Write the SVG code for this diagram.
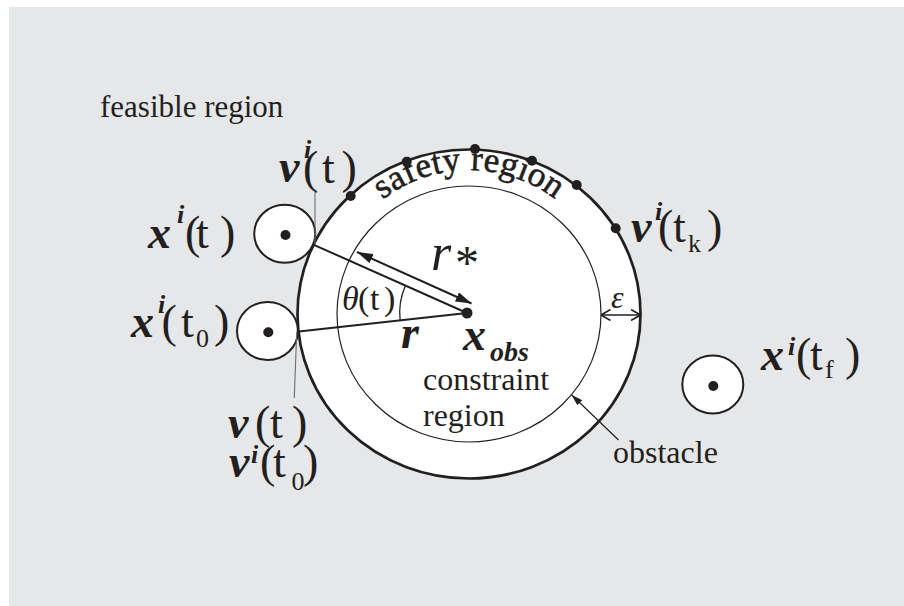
<svg xmlns="http://www.w3.org/2000/svg" width="904" height="606" viewBox="0 0 904 606" font-family="'Liberation Serif', Tinos, 'Times New Roman', 'DejaVu Serif', serif">
<defs>
<style>
text{fill:#231f20;font-family:'Liberation Serif', Tinos, 'Times New Roman', 'DejaVu Serif', serif}
.lbl{font-size:46px}
.bi{font-weight:bold;font-style:italic}
.it{font-style:italic}
.sm{font-size:26px}
.txt{font-size:32px}
.ln{stroke:#231f20;fill:none}
.wh{fill:#fff;stroke:#231f20}
.dot{fill:#231f20}
</style>
<marker id="ah" viewBox="0 0 16 10" refX="16" refY="5" markerWidth="16" markerHeight="10" markerUnits="userSpaceOnUse" orient="auto-start-reverse"><path d="M0,0 L16,5 L0,10 z" fill="#231f20"/></marker>
<marker id="ahs" viewBox="0 0 11 7" refX="11" refY="3.5" markerWidth="11" markerHeight="7" markerUnits="userSpaceOnUse" orient="auto"><path d="M0,0 L11,3.5 L0,7 z" fill="#231f20"/></marker>
<marker id="chev" viewBox="0 0 10 12" refX="9.5" refY="6" markerWidth="10" markerHeight="12" markerUnits="userSpaceOnUse" orient="auto-start-reverse"><path d="M0,0.5 L9.5,6 L0,11.5" fill="none" stroke="#231f20" stroke-width="1.6"/></marker>
<path id="arcp" d="M345,243 A142,142 0 0,1 593,243"/>
</defs>
<rect x="9" y="7" width="895" height="599" fill="#e6e7e8"/>

<g id="obstacle">
<ellipse class="wh" cx="469" cy="314" rx="171.5" ry="164.5" stroke-width="2.7"/>
<ellipse class="ln" cx="469" cy="314" rx="132" ry="128" stroke-width="1.2"/>
<text font-size="35" stroke="#231f20" stroke-width="0.6" letter-spacing="0.3"><textPath href="#arcp" startOffset="50%" text-anchor="middle">safety region</textPath></text>
<text class="txt" x="423" y="390">constraint</text>
<text class="txt" x="423" y="426">region</text>
<circle class="dot" cx="467" cy="313" r="5.5"/>
<text class="lbl"><tspan class="bi" x="463" y="350">x</tspan><tspan class="bi" font-size="28" x="490" y="361">obs</tspan></text>
</g>

<g id="safety-points">
<circle class="dot" cx="350.7" cy="196" r="5"/>
<circle class="dot" cx="406.7" cy="161.7" r="5"/>
<circle class="dot" cx="475" cy="149" r="5"/>
<circle class="dot" cx="532" cy="160.7" r="5"/>
<circle class="dot" cx="576.7" cy="185" r="5"/>
<circle class="dot" cx="615.7" cy="228.3" r="5"/>
<text class="lbl"><tspan class="bi" x="631" y="242">v</tspan><tspan class="bi sm" x="655" y="220">i</tspan><tspan x="658" y="242">(</tspan><tspan x="673" y="242">t</tspan><tspan class="sm" x="688" y="252">k</tspan><tspan x="707" y="242">)</tspan></text>
</g>

<g id="agent-t">
<ellipse class="wh" cx="284.7" cy="233.8" rx="30.5" ry="29" stroke-width="2"/>
<circle class="dot" cx="285.5" cy="235" r="5"/>
<text class="lbl"><tspan class="bi" x="148" y="248">x</tspan><tspan class="bi sm" x="177" y="223">i</tspan><tspan x="185" y="248">(</tspan><tspan x="196" y="248">t</tspan><tspan x="220" y="248">)</tspan></text>
</g>

<g id="agent-t0">
<ellipse class="wh" cx="267.5" cy="331" rx="30.5" ry="29" stroke-width="2"/>
<circle class="dot" cx="268.3" cy="332.3" r="5"/>
<text class="lbl"><tspan class="bi" x="131" y="337">x</tspan><tspan class="bi sm" x="158" y="313">i</tspan><tspan x="161.5" y="337">(</tspan><tspan x="181" y="337">t</tspan><tspan class="sm" x="196" y="347">0</tspan><tspan x="214" y="337">)</tspan></text>
</g>

<g id="agent-tf">
<ellipse class="wh" cx="712.8" cy="384.5" rx="30.5" ry="29" stroke-width="2"/>
<circle class="dot" cx="713.3" cy="386" r="5"/>
<text class="lbl"><tspan class="bi" x="761" y="370">x</tspan><tspan class="bi sm" x="788" y="355">i</tspan><tspan x="796" y="370">(</tspan><tspan x="810" y="370">t</tspan><tspan class="sm" x="825" y="378">f</tspan><tspan x="845" y="370">)</tspan></text>
</g>

<g id="connectors">
<line class="ln" x1="312.7" y1="244.3" x2="467" y2="313" stroke-width="2"/>
<line class="ln" x1="296.7" y1="331.7" x2="467" y2="313" stroke-width="2"/>
<line class="ln" x1="357" y1="252" x2="471.5" y2="303.5" stroke-width="2" marker-start="url(#ah)" marker-end="url(#ah)"/>
<path class="ln" d="M405.5,285.5 A67,67 0 0,0 400.1,320.4" stroke-width="1.3"/>
<line x1="315" y1="192" x2="315" y2="244" stroke="#6d6e70" stroke-width="1.1"/>
<line x1="296.7" y1="332" x2="294.3" y2="398" stroke="#6d6e70" stroke-width="1.1"/>
<line class="ln" x1="601" y1="315" x2="640.5" y2="315" stroke-width="1.6" marker-start="url(#chev)" marker-end="url(#chev)"/>
<line class="ln" x1="618.5" y1="440" x2="571.7" y2="395" stroke-width="1.2" marker-end="url(#ahs)"/>
</g>

<g id="labels">
<text font-size="31" x="100" y="117">feasible region</text>
<text class="lbl"><tspan class="bi" x="279" y="182">v</tspan><tspan class="bi sm" x="304" y="158">i</tspan><tspan x="303" y="183">(</tspan><tspan x="322" y="183">t</tspan><tspan x="341.5" y="183">)</tspan></text>
<text font-size="52"><tspan class="it" x="431" y="270">r</tspan><tspan font-size="48" x="455" y="279">*</tspan></text>
<text font-size="34"><tspan class="it" x="342" y="310">θ</tspan><tspan x="358" y="310">(</tspan><tspan x="370" y="310">t</tspan><tspan x="384" y="310">)</tspan></text>
<text class="lbl bi" x="401" y="348">r</text>
<text class="it" font-size="32" x="611" y="308">ε</text>
<text class="lbl"><tspan class="bi" x="228" y="438">v</tspan><tspan x="255" y="438">(</tspan><tspan x="270" y="438">t</tspan><tspan x="292" y="438">)</tspan></text>
<text class="lbl"><tspan class="bi" x="229" y="477">v</tspan><tspan class="bi sm" x="251" y="463">i</tspan><tspan x="260" y="477">(</tspan><tspan x="273" y="477">t</tspan><tspan class="sm" x="291.5" y="490">0</tspan><tspan x="303" y="477">)</tspan></text>
<text class="txt" x="613" y="463">obstacle</text>
</g>
</svg>
